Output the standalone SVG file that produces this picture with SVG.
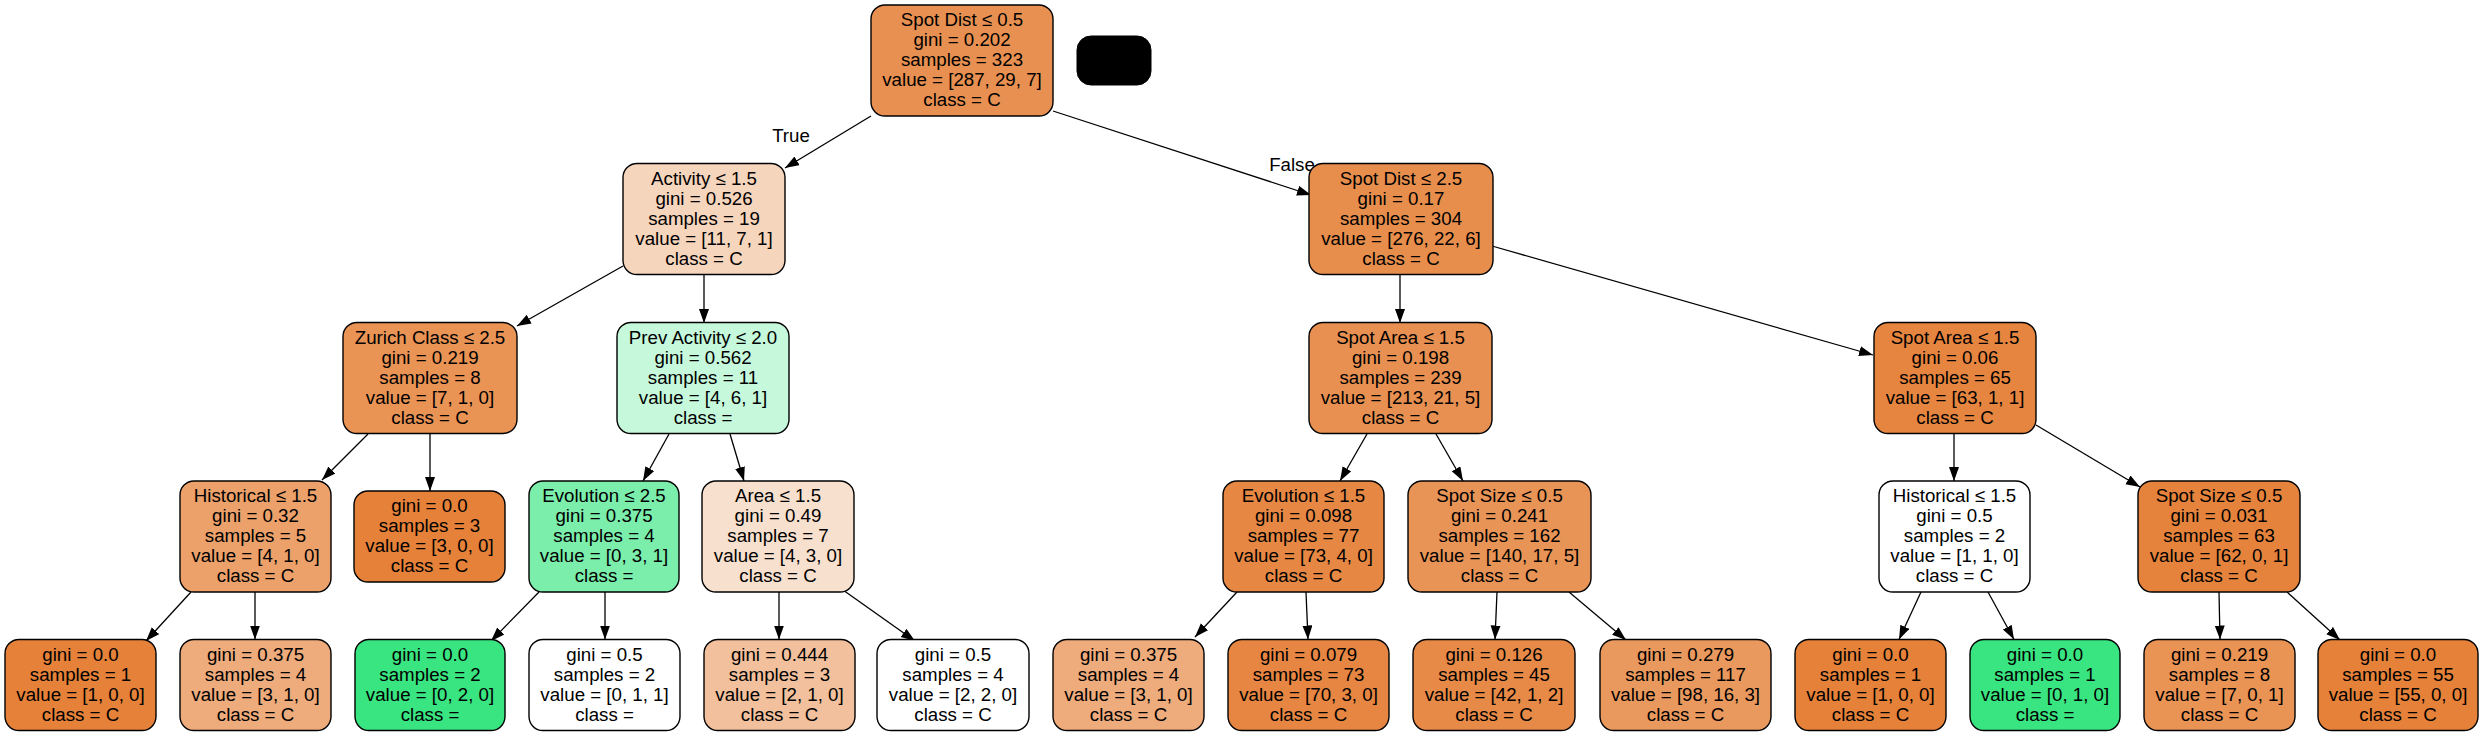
<svg xmlns="http://www.w3.org/2000/svg" width="2485" height="736" viewBox="0 0 2485 736">
<style>
.n{stroke:#000;stroke-width:1.4}
text{font-family:"Liberation Sans",Arial,Helvetica,sans-serif;font-size:18.7px;text-anchor:middle;fill:#000}
.e{stroke:#000;stroke-width:1.3;fill:none;marker-end:url(#ah)}
</style>
<defs>
<marker id="ah" markerUnits="userSpaceOnUse" markerWidth="16" markerHeight="12" refX="14" refY="5" orient="auto"><path d="M0,0 L14,5 L0,10 z" fill="#000"/></marker>
</defs>
<rect width="2485" height="736" fill="#fff"/>
<g id="connectors">
<line class="e" x1="871" y1="116" x2="785" y2="168"/>
<line class="e" x1="1053" y1="111" x2="1311" y2="195"/>
<line class="e" x1="623" y1="266" x2="517" y2="326"/>
<line class="e" x1="704" y1="275" x2="704" y2="323"/>
<line class="e" x1="1400" y1="275" x2="1400" y2="323"/>
<line class="e" x1="1492" y1="246" x2="1873" y2="355"/>
<line class="e" x1="368" y1="434" x2="322" y2="480"/>
<line class="e" x1="430" y1="433" x2="430" y2="491"/>
<line class="e" x1="669" y1="434" x2="643" y2="481"/>
<line class="e" x1="730" y1="434" x2="744" y2="481"/>
<line class="e" x1="1367" y1="434" x2="1340" y2="481"/>
<line class="e" x1="1436" y1="434" x2="1463" y2="481"/>
<line class="e" x1="1954" y1="433" x2="1954" y2="481"/>
<line class="e" x1="2036" y1="425" x2="2140" y2="487"/>
<line class="e" x1="191" y1="592" x2="146" y2="641"/>
<line class="e" x1="255" y1="592" x2="255" y2="639.5"/>
<line class="e" x1="539" y1="592" x2="491" y2="641"/>
<line class="e" x1="605" y1="592" x2="605" y2="639.5"/>
<line class="e" x1="779" y1="592" x2="779" y2="639.5"/>
<line class="e" x1="843" y1="590" x2="915" y2="641"/>
<line class="e" x1="1237" y1="592" x2="1195" y2="637"/>
<line class="e" x1="1306" y1="592" x2="1308" y2="639.5"/>
<line class="e" x1="1497" y1="592" x2="1495" y2="639.5"/>
<line class="e" x1="1569" y1="592" x2="1626" y2="640"/>
<line class="e" x1="1921" y1="592" x2="1899" y2="639.5"/>
<line class="e" x1="1988" y1="592" x2="2014" y2="639.5"/>
<line class="e" x1="2219" y1="592" x2="2220" y2="639.5"/>
<line class="e" x1="2287" y1="592" x2="2340" y2="640"/>
<text x="791" y="142">True</text>
<text x="1292" y="171">False</text>
</g>
<g id="n0"><rect class="n" x="871" y="5" width="182" height="111" rx="14" fill="#e89051"/>
<text x="962" y="26"><tspan x="962">Spot Dist ≤ 0.5</tspan><tspan x="962" dy="20">gini = 0.202</tspan><tspan x="962" dy="20">samples = 323</tspan><tspan x="962" dy="20">value = [287, 29, 7]</tspan><tspan x="962" dy="20">class = C</tspan></text></g>
<g id="blank"><rect x="1077" y="36" width="74" height="49" rx="14" fill="#000" stroke="#000"/></g>
<g id="n1"><rect class="n" x="623" y="163.5" width="162" height="111" rx="14" fill="#f6d5bd"/>
<text x="704" y="184.5"><tspan x="704">Activity ≤ 1.5</tspan><tspan x="704" dy="20">gini = 0.526</tspan><tspan x="704" dy="20">samples = 19</tspan><tspan x="704" dy="20">value = [11, 7, 1]</tspan><tspan x="704" dy="20">class = C</tspan></text></g>
<g id="n2"><rect class="n" x="343" y="322.5" width="174" height="111" rx="14" fill="#e99355"/>
<text x="430" y="343.5"><tspan x="430">Zurich Class ≤ 2.5</tspan><tspan x="430" dy="20">gini = 0.219</tspan><tspan x="430" dy="20">samples = 8</tspan><tspan x="430" dy="20">value = [7, 1, 0]</tspan><tspan x="430" dy="20">class = C</tspan></text></g>
<g id="n3"><rect class="n" x="617" y="322.5" width="172" height="111" rx="14" fill="#c6f8db"/>
<text x="703" y="343.5"><tspan x="703">Prev Activity ≤ 2.0</tspan><tspan x="703" dy="20">gini = 0.562</tspan><tspan x="703" dy="20">samples = 11</tspan><tspan x="703" dy="20">value = [4, 6, 1]</tspan><tspan x="703" dy="20">class = </tspan></text></g>
<g id="n4"><rect class="n" x="180" y="481" width="151" height="111" rx="14" fill="#eca06a"/>
<text x="255.5" y="502"><tspan x="255.5">Historical ≤ 1.5</tspan><tspan x="255.5" dy="20">gini = 0.32</tspan><tspan x="255.5" dy="20">samples = 5</tspan><tspan x="255.5" dy="20">value = [4, 1, 0]</tspan><tspan x="255.5" dy="20">class = C</tspan></text></g>
<g id="n5"><rect class="n" x="354" y="491" width="151" height="91" rx="14" fill="#e58139"/>
<text x="429.5" y="512"><tspan x="429.5">gini = 0.0</tspan><tspan x="429.5" dy="20">samples = 3</tspan><tspan x="429.5" dy="20">value = [3, 0, 0]</tspan><tspan x="429.5" dy="20">class = C</tspan></text></g>
<g id="n6"><rect class="n" x="529" y="481" width="150" height="111" rx="14" fill="#7beeab"/>
<text x="604" y="502"><tspan x="604">Evolution ≤ 2.5</tspan><tspan x="604" dy="20">gini = 0.375</tspan><tspan x="604" dy="20">samples = 4</tspan><tspan x="604" dy="20">value = [0, 3, 1]</tspan><tspan x="604" dy="20">class = </tspan></text></g>
<g id="n7"><rect class="n" x="702" y="481" width="152" height="111" rx="14" fill="#f8e0ce"/>
<text x="778" y="502"><tspan x="778">Area ≤ 1.5</tspan><tspan x="778" dy="20">gini = 0.49</tspan><tspan x="778" dy="20">samples = 7</tspan><tspan x="778" dy="20">value = [4, 3, 0]</tspan><tspan x="778" dy="20">class = C</tspan></text></g>
<g id="n8"><rect class="n" x="5" y="639.5" width="151" height="91" rx="14" fill="#e58139"/>
<text x="80.5" y="660.5"><tspan x="80.5">gini = 0.0</tspan><tspan x="80.5" dy="20">samples = 1</tspan><tspan x="80.5" dy="20">value = [1, 0, 0]</tspan><tspan x="80.5" dy="20">class = C</tspan></text></g>
<g id="n9"><rect class="n" x="180" y="639.5" width="151" height="91" rx="14" fill="#eeab7b"/>
<text x="255.5" y="660.5"><tspan x="255.5">gini = 0.375</tspan><tspan x="255.5" dy="20">samples = 4</tspan><tspan x="255.5" dy="20">value = [3, 1, 0]</tspan><tspan x="255.5" dy="20">class = C</tspan></text></g>
<g id="n10"><rect class="n" x="355" y="639.5" width="150" height="91" rx="14" fill="#39e581"/>
<text x="430" y="660.5"><tspan x="430">gini = 0.0</tspan><tspan x="430" dy="20">samples = 2</tspan><tspan x="430" dy="20">value = [0, 2, 0]</tspan><tspan x="430" dy="20">class = </tspan></text></g>
<g id="n11"><rect class="n" x="529" y="639.5" width="151" height="91" rx="14" fill="#ffffff"/>
<text x="604.5" y="660.5"><tspan x="604.5">gini = 0.5</tspan><tspan x="604.5" dy="20">samples = 2</tspan><tspan x="604.5" dy="20">value = [0, 1, 1]</tspan><tspan x="604.5" dy="20">class = </tspan></text></g>
<g id="n12"><rect class="n" x="704" y="639.5" width="151" height="91" rx="14" fill="#f2c09c"/>
<text x="779.5" y="660.5"><tspan x="779.5">gini = 0.444</tspan><tspan x="779.5" dy="20">samples = 3</tspan><tspan x="779.5" dy="20">value = [2, 1, 0]</tspan><tspan x="779.5" dy="20">class = C</tspan></text></g>
<g id="n13"><rect class="n" x="877" y="639.5" width="152" height="91" rx="14" fill="#ffffff"/>
<text x="953" y="660.5"><tspan x="953">gini = 0.5</tspan><tspan x="953" dy="20">samples = 4</tspan><tspan x="953" dy="20">value = [2, 2, 0]</tspan><tspan x="953" dy="20">class = C</tspan></text></g>
<g id="n14"><rect class="n" x="1309" y="163.5" width="184" height="111" rx="14" fill="#e88e4d"/>
<text x="1401" y="184.5"><tspan x="1401">Spot Dist ≤ 2.5</tspan><tspan x="1401" dy="20">gini = 0.17</tspan><tspan x="1401" dy="20">samples = 304</tspan><tspan x="1401" dy="20">value = [276, 22, 6]</tspan><tspan x="1401" dy="20">class = C</tspan></text></g>
<g id="n15"><rect class="n" x="1309" y="322.5" width="183" height="111" rx="14" fill="#e89051"/>
<text x="1400.5" y="343.5"><tspan x="1400.5">Spot Area ≤ 1.5</tspan><tspan x="1400.5" dy="20">gini = 0.198</tspan><tspan x="1400.5" dy="20">samples = 239</tspan><tspan x="1400.5" dy="20">value = [213, 21, 5]</tspan><tspan x="1400.5" dy="20">class = C</tspan></text></g>
<g id="n16"><rect class="n" x="1874" y="322.5" width="162" height="111" rx="14" fill="#e6853f"/>
<text x="1955" y="343.5"><tspan x="1955">Spot Area ≤ 1.5</tspan><tspan x="1955" dy="20">gini = 0.06</tspan><tspan x="1955" dy="20">samples = 65</tspan><tspan x="1955" dy="20">value = [63, 1, 1]</tspan><tspan x="1955" dy="20">class = C</tspan></text></g>
<g id="n17"><rect class="n" x="1223" y="481" width="161" height="111" rx="14" fill="#e68844"/>
<text x="1303.5" y="502"><tspan x="1303.5">Evolution ≤ 1.5</tspan><tspan x="1303.5" dy="20">gini = 0.098</tspan><tspan x="1303.5" dy="20">samples = 77</tspan><tspan x="1303.5" dy="20">value = [73, 4, 0]</tspan><tspan x="1303.5" dy="20">class = C</tspan></text></g>
<g id="n18"><rect class="n" x="1408" y="481" width="183" height="111" rx="14" fill="#e99457"/>
<text x="1499.5" y="502"><tspan x="1499.5">Spot Size ≤ 0.5</tspan><tspan x="1499.5" dy="20">gini = 0.241</tspan><tspan x="1499.5" dy="20">samples = 162</tspan><tspan x="1499.5" dy="20">value = [140, 17, 5]</tspan><tspan x="1499.5" dy="20">class = C</tspan></text></g>
<g id="n19"><rect class="n" x="1879" y="481" width="151" height="111" rx="14" fill="#ffffff"/>
<text x="1954.5" y="502"><tspan x="1954.5">Historical ≤ 1.5</tspan><tspan x="1954.5" dy="20">gini = 0.5</tspan><tspan x="1954.5" dy="20">samples = 2</tspan><tspan x="1954.5" dy="20">value = [1, 1, 0]</tspan><tspan x="1954.5" dy="20">class = C</tspan></text></g>
<g id="n20"><rect class="n" x="2138" y="481" width="162" height="111" rx="14" fill="#e5833c"/>
<text x="2219" y="502"><tspan x="2219">Spot Size ≤ 0.5</tspan><tspan x="2219" dy="20">gini = 0.031</tspan><tspan x="2219" dy="20">samples = 63</tspan><tspan x="2219" dy="20">value = [62, 0, 1]</tspan><tspan x="2219" dy="20">class = C</tspan></text></g>
<g id="n21"><rect class="n" x="1053" y="639.5" width="151" height="91" rx="14" fill="#eeab7b"/>
<text x="1128.5" y="660.5"><tspan x="1128.5">gini = 0.375</tspan><tspan x="1128.5" dy="20">samples = 4</tspan><tspan x="1128.5" dy="20">value = [3, 1, 0]</tspan><tspan x="1128.5" dy="20">class = C</tspan></text></g>
<g id="n22"><rect class="n" x="1228" y="639.5" width="161" height="91" rx="14" fill="#e68642"/>
<text x="1308.5" y="660.5"><tspan x="1308.5">gini = 0.079</tspan><tspan x="1308.5" dy="20">samples = 73</tspan><tspan x="1308.5" dy="20">value = [70, 3, 0]</tspan><tspan x="1308.5" dy="20">class = C</tspan></text></g>
<g id="n23"><rect class="n" x="1413" y="639.5" width="162" height="91" rx="14" fill="#e78a47"/>
<text x="1494" y="660.5"><tspan x="1494">gini = 0.126</tspan><tspan x="1494" dy="20">samples = 45</tspan><tspan x="1494" dy="20">value = [42, 1, 2]</tspan><tspan x="1494" dy="20">class = C</tspan></text></g>
<g id="n24"><rect class="n" x="1600" y="639.5" width="171" height="91" rx="14" fill="#ea995e"/>
<text x="1685.5" y="660.5"><tspan x="1685.5">gini = 0.279</tspan><tspan x="1685.5" dy="20">samples = 117</tspan><tspan x="1685.5" dy="20">value = [98, 16, 3]</tspan><tspan x="1685.5" dy="20">class = C</tspan></text></g>
<g id="n25"><rect class="n" x="1795" y="639.5" width="151" height="91" rx="14" fill="#e58139"/>
<text x="1870.5" y="660.5"><tspan x="1870.5">gini = 0.0</tspan><tspan x="1870.5" dy="20">samples = 1</tspan><tspan x="1870.5" dy="20">value = [1, 0, 0]</tspan><tspan x="1870.5" dy="20">class = C</tspan></text></g>
<g id="n26"><rect class="n" x="1970" y="639.5" width="150" height="91" rx="14" fill="#39e581"/>
<text x="2045" y="660.5"><tspan x="2045">gini = 0.0</tspan><tspan x="2045" dy="20">samples = 1</tspan><tspan x="2045" dy="20">value = [0, 1, 0]</tspan><tspan x="2045" dy="20">class = </tspan></text></g>
<g id="n27"><rect class="n" x="2144" y="639.5" width="151" height="91" rx="14" fill="#e99355"/>
<text x="2219.5" y="660.5"><tspan x="2219.5">gini = 0.219</tspan><tspan x="2219.5" dy="20">samples = 8</tspan><tspan x="2219.5" dy="20">value = [7, 0, 1]</tspan><tspan x="2219.5" dy="20">class = C</tspan></text></g>
<g id="n28"><rect class="n" x="2318" y="639.5" width="160" height="91" rx="14" fill="#e58139"/>
<text x="2398" y="660.5"><tspan x="2398">gini = 0.0</tspan><tspan x="2398" dy="20">samples = 55</tspan><tspan x="2398" dy="20">value = [55, 0, 0]</tspan><tspan x="2398" dy="20">class = C</tspan></text></g>
</svg>
